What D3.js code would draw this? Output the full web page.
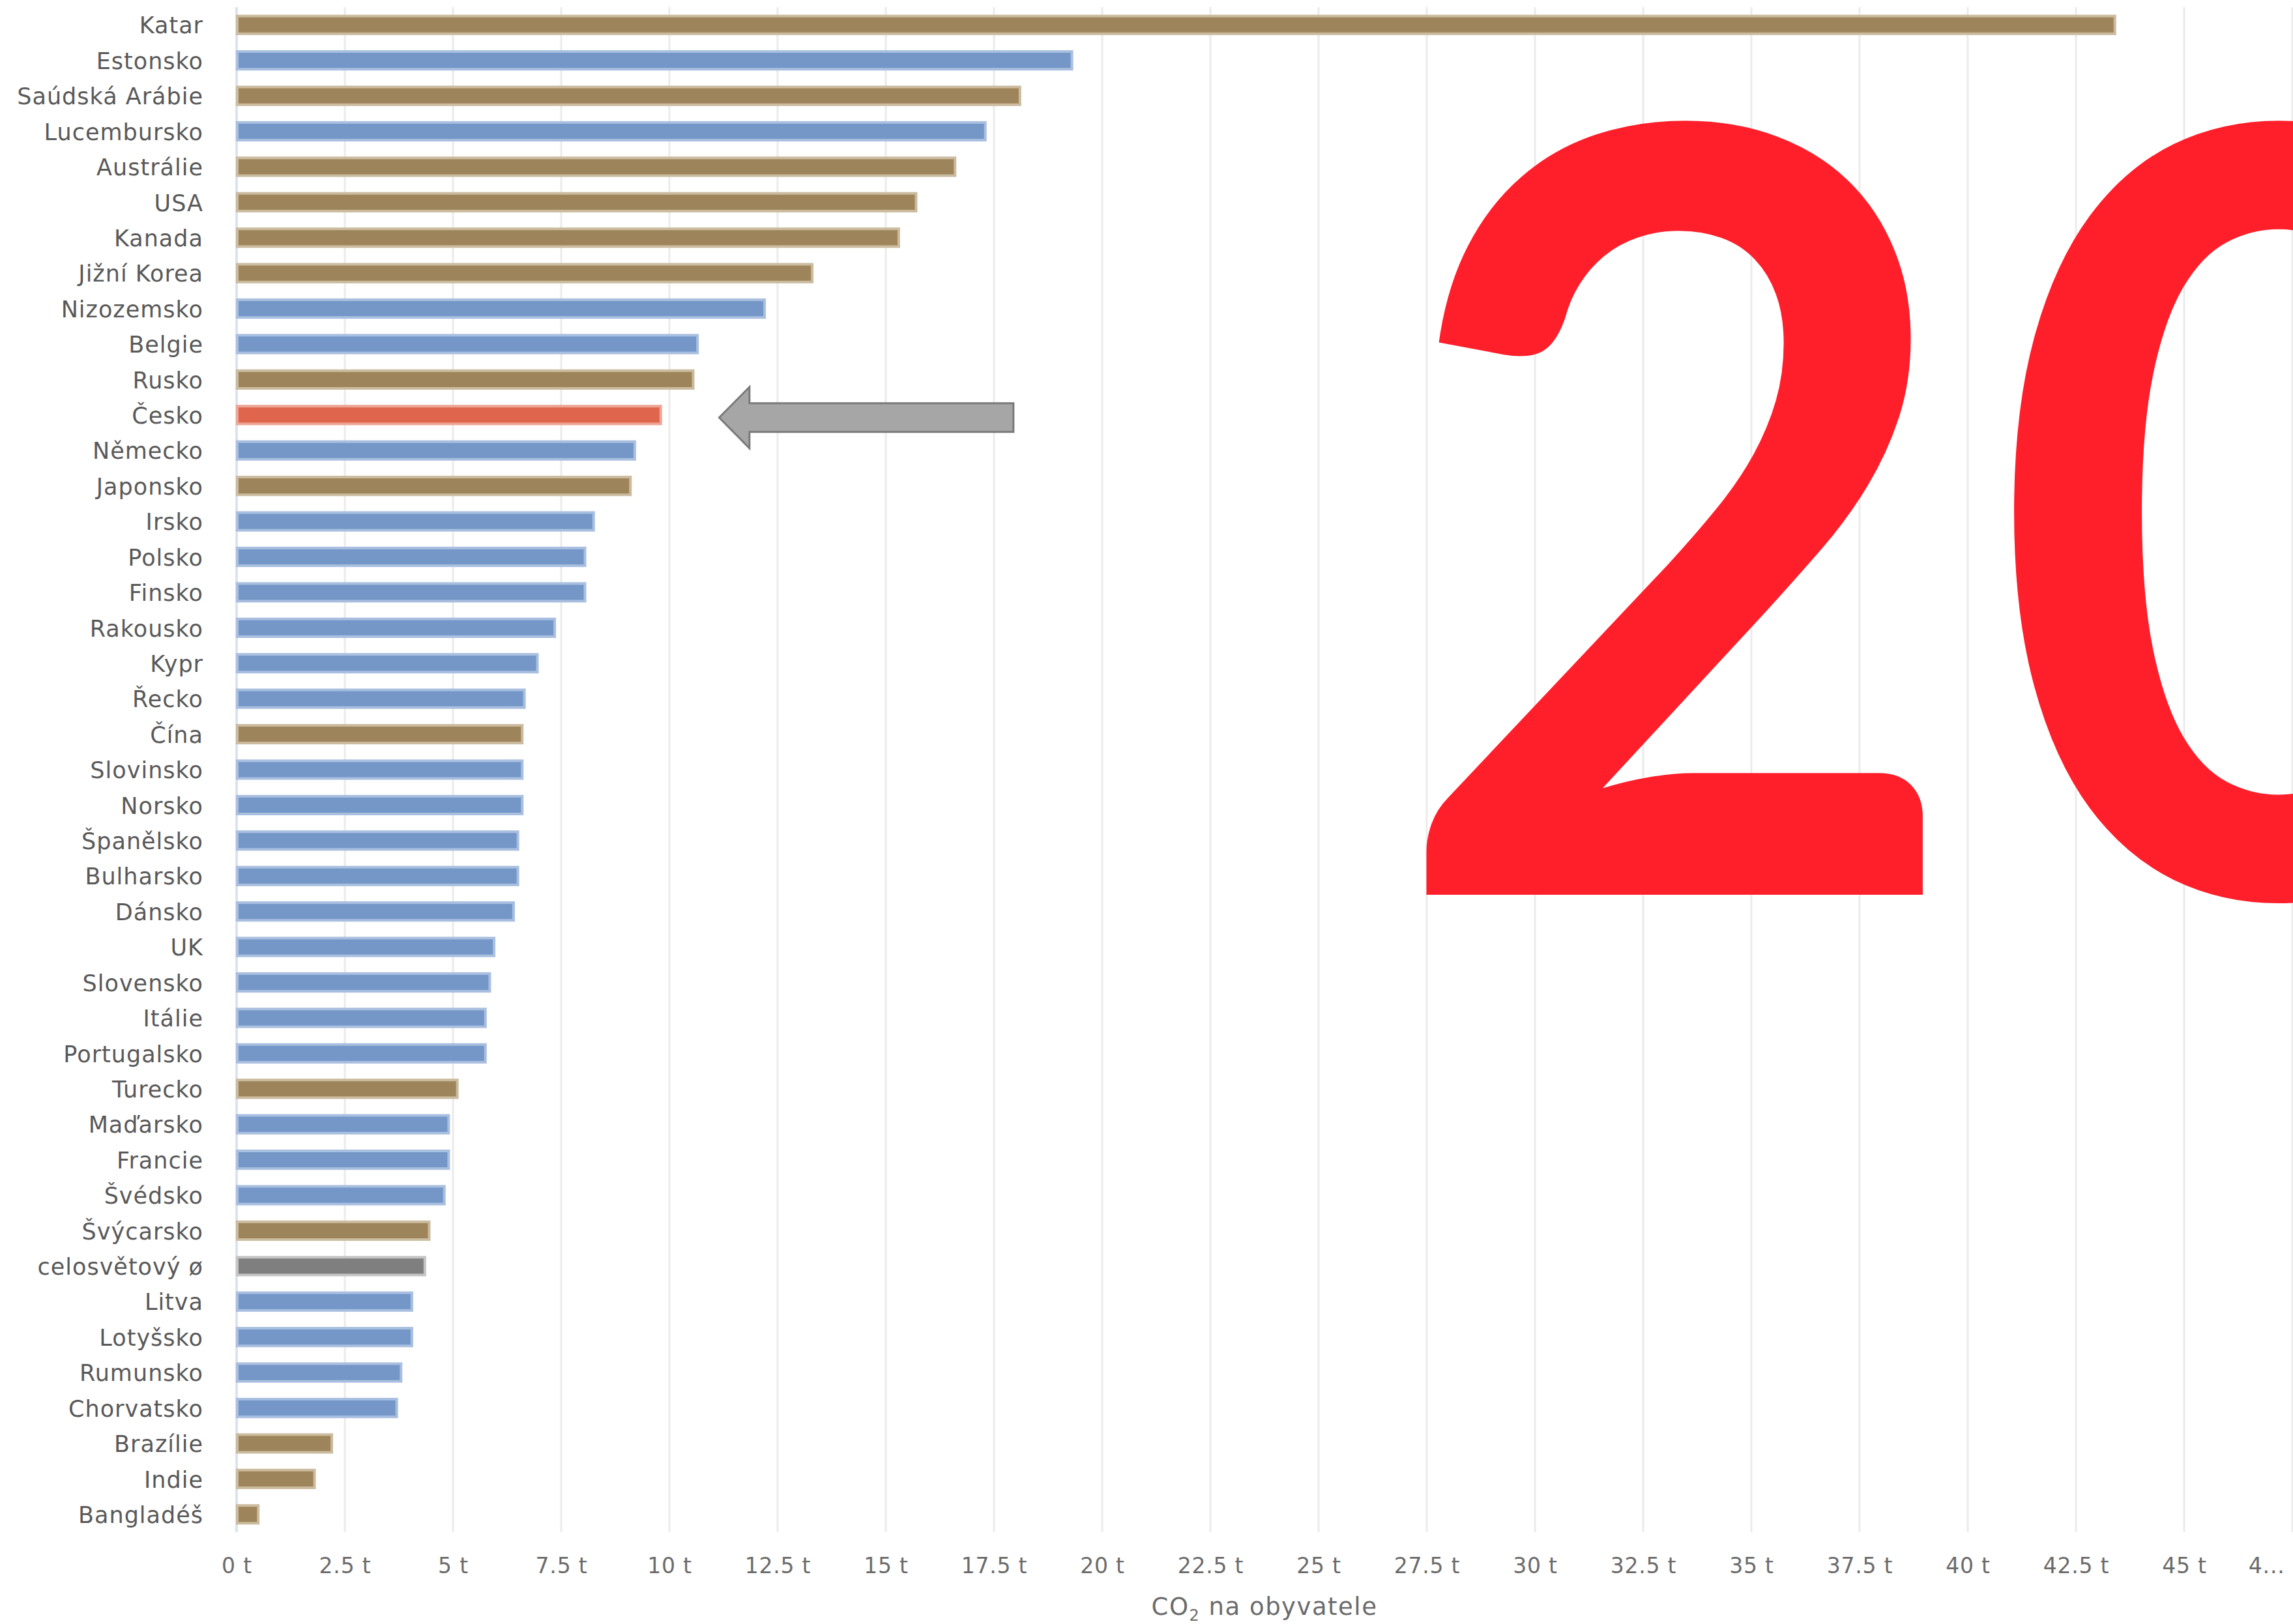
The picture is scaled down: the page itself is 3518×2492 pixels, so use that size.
<!DOCTYPE html>
<html>
<head>
<meta charset="utf-8">
<script src="https://cdn.jsdelivr.net/npm/d3@7"></script>
<style>
  html, body { margin: 0; padding: 0; background: #fff; }
  svg { display: block; }
</style>
</head>
<body>
<div id="chart-container"></div>
<script>
const countries = ["Katar", "Estonsko", "Saúdská Arábie", "Lucembursko", "Austrálie", "USA", "Kanada",
  "Jižní Korea", "Nizozemsko", "Belgie", "Rusko", "Česko", "Německo", "Japonsko", "Irsko", "Polsko",
  "Finsko", "Rakousko", "Kypr", "Řecko", "Čína", "Slovinsko", "Norsko", "Španělsko", "Bulharsko",
  "Dánsko", "UK", "Slovensko", "Itálie", "Portugalsko", "Turecko", "Maďarsko", "Francie", "Švédsko",
  "Švýcarsko", "celosvětový ø", "Litva", "Lotyšsko", "Rumunsko", "Chorvatsko", "Brazílie", "Indie", "Bangladéš"];

const co2PerCapita = [43.4, 19.3, 18.1, 17.3, 16.6, 15.7, 15.3,
  13.3, 12.2, 10.65, 10.55, 9.8, 9.2, 9.1, 8.25, 8.05,
  8.05, 7.35, 6.95, 6.65, 6.6, 6.6, 6.6, 6.5, 6.5,
  6.4, 5.95, 5.85, 5.75, 5.75, 5.1, 4.9, 4.9, 4.8,
  4.45, 4.35, 4.05, 4.05, 3.8, 3.7, 2.2, 1.8, 0.5];

// eu = blue, other = brown, cz = highlighted, world = average
const groups = ["other", "eu", "other", "eu", "other", "other", "other",
  "other", "eu", "eu", "other", "cz", "eu", "other", "eu", "eu",
  "eu", "eu", "eu", "eu", "other", "eu", "eu", "eu", "eu",
  "eu", "eu", "eu", "eu", "eu", "other", "eu", "eu", "eu",
  "other", "world", "eu", "eu", "eu", "eu", "other", "other", "other"];

const tickValues = [0, 2.5, 5, 7.5, 10, 12.5, 15, 17.5, 20, 22.5, 25, 27.5, 30, 32.5, 35, 37.5, 40, 42.5, 45, 47.5];
const tickLabels = ["0 t", "2.5 t", "5 t", "7.5 t", "10 t", "12.5 t", "15 t", "17.5 t", "20 t", "22.5 t",
  "25 t", "27.5 t", "30 t", "32.5 t", "35 t", "37.5 t", "40 t", "42.5 t", "45 t", "4..."];

const bigLabel = "20";

const colors = { eu: "#7497c8", other: "#9e845a", cz: "#e0654d", world: "#7f7f7f" };
const edgeColors = { eu: "#a9bfe0", other: "#cbbb9f", cz: "#eda596", world: "#c4c4c4" };

const W = 3518, H = 2492;
const mLeft = 363, mRight = 3517, mTop = 11, mBottom = 2351;

const svg = d3.select("#chart-container")
  .append("svg")
  .attr("width", W)
  .attr("height", H)
  .attr("id", "chart");

const xScale = d3.scaleLinear().domain([0, 47.5]).range([mLeft, mRight]);
const yScale = d3.scaleBand()
  .domain(countries)
  .range([mTop, mBottom])
  .paddingInner(0.5)
  .paddingOuter(0.25);

// vertical gridlines
svg.append("g")
  .selectAll("line")
  .data(tickValues.slice(1))
  .join("line")
  .attr("x1", d => xScale(d))
  .attr("x2", d => xScale(d))
  .attr("y1", mTop)
  .attr("y2", mBottom)
  .style("stroke", "#ebebeb")
  .style("stroke-width", 3);

// zero line
svg.append("line")
  .attr("x1", xScale(0)).attr("x2", xScale(0))
  .attr("y1", mTop).attr("y2", mBottom)
  .style("stroke", "#dbe3f1")
  .style("stroke-width", 4);

// bars
svg.append("g")
  .selectAll("rect")
  .data(co2PerCapita)
  .join("rect")
  .attr("x", xScale(0) + 1)
  .attr("y", (d, i) => yScale(countries[i]))
  .attr("width", d => xScale(d) - xScale(0) - 1)
  .attr("height", yScale.bandwidth())
  .style("fill", (d, i) => colors[groups[i]])
  .style("stroke", (d, i) => edgeColors[groups[i]])
  .style("stroke-width", 4);

// category labels
const yAxis = d3.axisLeft(yScale).tickSize(0).tickPadding(0);
svg.append("g")
  .attr("transform", `translate(${mLeft - 51}, 2)`)
  .call(yAxis)
  .call(g => g.select(".domain").remove())
  .selectAll("text")
  .style("font-family", "'DejaVu Sans'")
  .style("font-size", "35px")
  .style("letter-spacing", "1px")
  .style("fill", "#595959");

// tick labels
const xAxis = d3.axisBottom(xScale)
  .tickValues(tickValues)
  .tickSize(0)
  .tickPadding(0)
  .tickFormat((d, i) => tickLabels[i]);
svg.append("g")
  .attr("transform", `translate(0, 2414)`)
  .call(xAxis)
  .call(g => g.select(".domain").remove())
  .selectAll("text")
  .attr("dy", "0")
  .style("font-family", "'DejaVu Sans'")
  .style("font-size", "33px")
  .style("letter-spacing", "0.8px")
  .style("fill", "#6b6b6b")
  .filter((d, i) => i === tickValues.length - 1)
  .attr("text-anchor", "end")
  .attr("x", -12);

// axis title
const title = svg.append("text")
  .attr("x", (mLeft + mRight) / 2)
  .attr("y", 2478)
  .style("text-anchor", "middle")
  .style("font-family", "'DejaVu Sans'")
  .style("font-size", "37px")
  .style("letter-spacing", "1.5px")
  .style("fill", "#6b6b6b");
title.append("tspan").text("CO");
title.append("tspan").attr("dy", 9).style("font-size", "24px").text("2");
title.append("tspan").attr("dy", -9).text(" na obyvatele");

// arrow pointing to Česko
const cy = yScale("Česko") + yScale.bandwidth() / 2 + 4;
const tipX = xScale(11.15), headX = xScale(11.85), endX = xScale(17.95);
const arrowPts = [
  [tipX, cy], [headX, cy - 47], [headX, cy - 22], [endX, cy - 22],
  [endX, cy + 22], [headX, cy + 22], [headX, cy + 47]
];
svg.append("path")
  .attr("d", d3.line()(arrowPts) + "Z")
  .style("fill", "#a6a6a6")
  .style("stroke", "#7a7a7a")
  .style("stroke-width", 3);

// big red label
svg.append("text")
  .attr("transform", "translate(2130, 1373) scale(0.945, 1)")
  .style("font-family", "Lato")
  .style("font-weight", "700")
  .style("font-size", "1625px")
  .style("letter-spacing", "33px")
  .style("fill", "#ff1f2b")
  .text(bigLabel);
</script>
</body>
</html>
